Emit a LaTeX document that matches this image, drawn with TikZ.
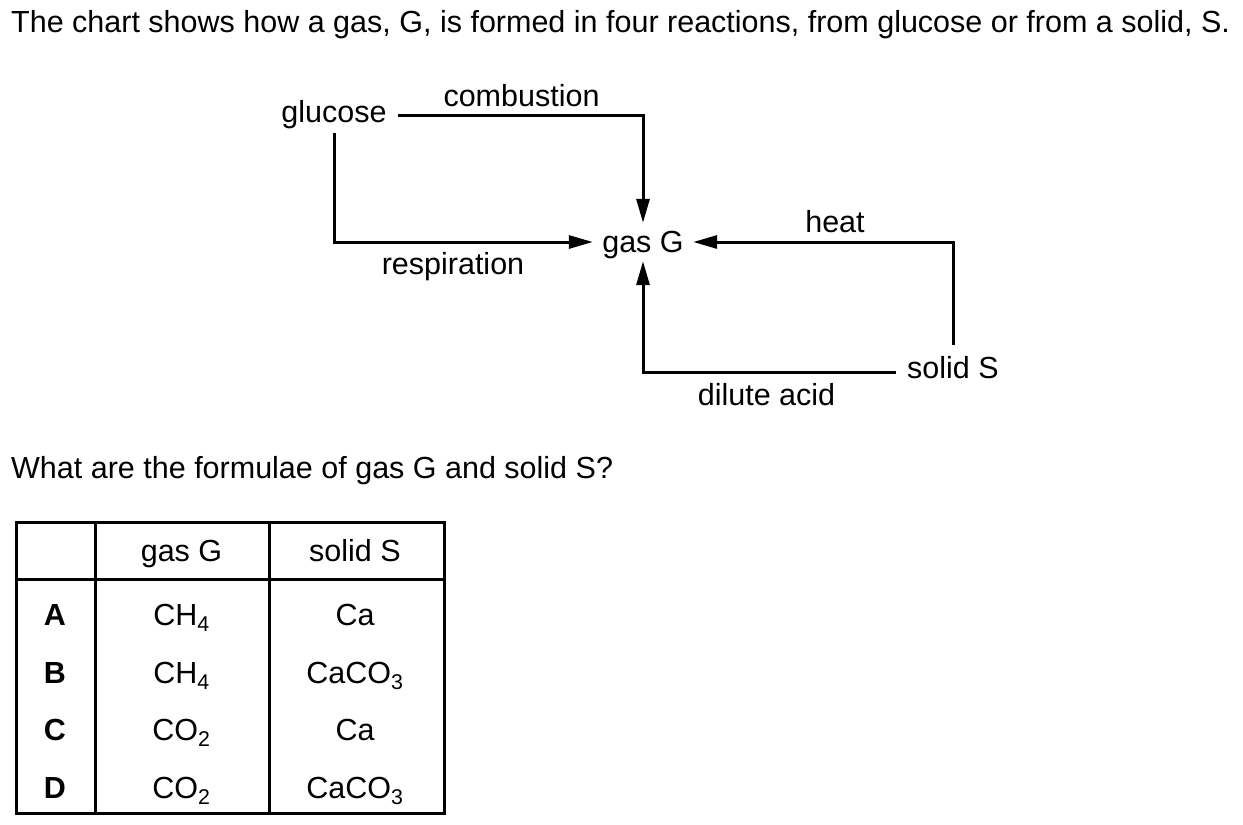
\documentclass[tikz,border=0pt]{standalone}
\usepackage{fontspec}
\setmainfont{Liberation Sans}
\usetikzlibrary{arrows.meta}
\tikzset{
  lbl/.style={inner sep=0pt, font=\fontsize{30.5}{36}\selectfont},
  cell/.style={lbl, anchor=base},
  flow/.style={line width=3pt, -{Triangle[length=24pt,width=13pt]}},
  rule/.style={line width=3pt},
}
\begin{document}
\begin{tikzpicture}[x=1pt,y=-1pt]
\useasboundingbox (0,0) rectangle (1243,825);
\node[lbl, anchor=base west] (title) at (11,32) {The chart shows how a gas, G, is formed in four reactions, from glucose or from a solid, S.};
% the chart
\node[lbl, inner xsep=11.5pt, inner ysep=4pt] (glucose) at (334,115) {glucose};
\node[lbl, text height=24pt, text depth=3pt, inner xsep=9.3pt, inner ysep=5.5pt, anchor=base] (gas) at (643,252.5) {gas G};
\node[lbl, text height=21.5pt, text depth=10pt, inner xsep=11pt, inner ysep=11.5pt, anchor=base] (solid) at (953,378) {solid S};
\node[lbl] (combustion) at (521.5,96) {combustion};
\node[lbl] (respiration) at (453,267) {respiration};
\node[lbl] (heat) at (835,222) {heat};
\node[lbl] (dilute) at (766.5,395) {dilute acid};
\draw[flow] (glucose.east) -| (gas.north);
\draw[flow] (glucose.south) |- (gas.west);
\draw[flow] (solid.north) |- (gas.east);
\draw[flow] (solid.west) -| (gas.south);
% the question
\node[lbl, anchor=base west] (question) at (11,478) {What are the formulae of gas G and solid S?};
% the table
\draw[rule] (16,522) rectangle (444,813);
\draw[rule] (95,522) -- (95,813) (269,522) -- (269,813) (16,579) -- (444,579);
\node[cell] (hgas) at (181.5,561) {gas G};
\node[cell] (hsolid) at (355,561) {solid S};
\foreach \key/\gasf/\solidf/\y in {A/CH\textsubscript{4}/Ca/625, B/CH\textsubscript{4}/CaCO\textsubscript{3}/683,
    C/CO\textsubscript{2}/Ca/740, D/CO\textsubscript{2}/CaCO\textsubscript{3}/798}{
  \node[cell, font=\fontsize{30.5}{36}\selectfont\bfseries] (row\key) at (55,\y) {\key};
  \node[cell] (gas\key) at (181.5,\y) {\gasf};
  \node[cell] (solid\key) at (355,\y) {\solidf};
}
\end{tikzpicture}
\end{document}
